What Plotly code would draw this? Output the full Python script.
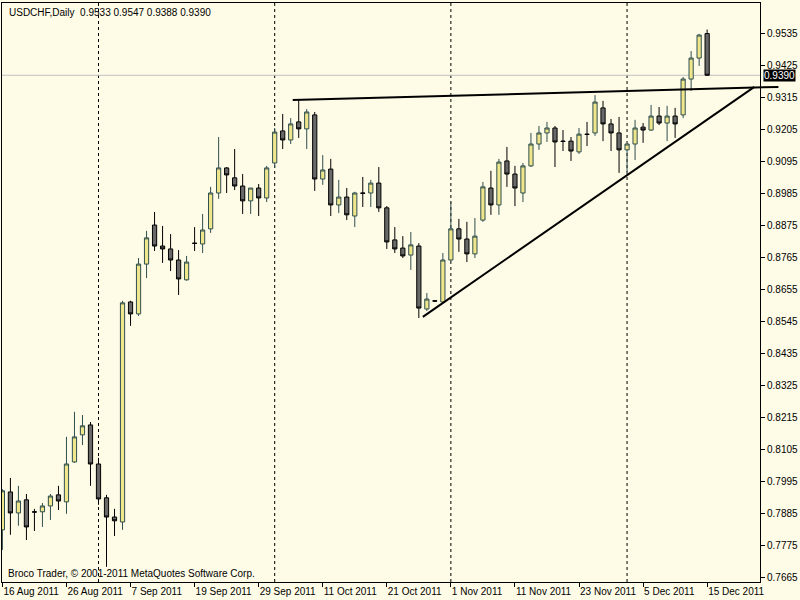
import pandas as pd
import plotly.graph_objects as go

# ---- data ----
dates = list(pd.bdate_range("2011-08-16", "2011-12-15").strftime("%Y-%m-%d"))
dates.insert(dates.index("2011-10-31"), "2011-10-30")  # broker Sunday bar

opens = [
    0.7830, 0.7960, 0.7888, 0.7933, 0.7892, 0.7892, 0.7912, 0.7950, 0.7926, 0.8063,
    0.8156, 0.8190, 0.8056, 0.7940, 0.7874, 0.7857, 0.8612, 0.8571, 0.8742, 0.8876,
    0.8804, 0.8794, 0.8756, 0.8688, 0.8814, 0.8811, 0.8863, 0.8986, 0.9072, 0.9038,
    0.9010, 0.8959, 0.9003, 0.8969, 0.9089, 0.9199, 0.9168, 0.9230, 0.9206, 0.9254,
    0.9034, 0.9068, 0.8945, 0.8972, 0.8907, 0.8986, 0.8986, 0.9020, 0.8935, 0.8825,
    0.8797, 0.8773, 0.8804, 0.8588, 0.8616, 0.8612, 0.8756, 0.8863, 0.8828, 0.8777,
    0.8893, 0.9003, 0.8945, 0.9096, 0.9051, 0.8986, 0.9079, 0.9154, 0.9192, 0.9209,
    0.9164, 0.9164, 0.9127, 0.9188, 0.9192, 0.9278, 0.9223, 0.9192, 0.9134, 0.9154,
    0.9212, 0.9202, 0.9250, 0.9226, 0.9250, 0.9254, 0.9377, 0.9449, 0.9533]
highs = [
    0.7970, 0.8008, 0.7981, 0.7953, 0.7902, 0.7922, 0.7953, 0.7981, 0.8149, 0.8235,
    0.8224, 0.8200, 0.8077, 0.7950, 0.7902, 0.8616, 0.8616, 0.8763, 0.8856, 0.8921,
    0.8873, 0.8845, 0.8790, 0.8770, 0.8869, 0.8914, 0.9007, 0.9178, 0.9075, 0.9137,
    0.9051, 0.9003, 0.9017, 0.9079, 0.9209, 0.9257, 0.9243, 0.9305, 0.9274, 0.9264,
    0.9116, 0.9103, 0.9031, 0.9003, 0.8990, 0.9041, 0.9031, 0.9075, 0.8941, 0.8869,
    0.8838, 0.8852, 0.8814, 0.8643, 0.8619, 0.8780, 0.8955, 0.8897, 0.8887, 0.8900,
    0.9024, 0.9062, 0.9103, 0.9144, 0.9079, 0.9089, 0.9192, 0.9216, 0.9230, 0.9216,
    0.9202, 0.9178, 0.9209, 0.9230, 0.9322, 0.9302, 0.9240, 0.9247, 0.9154, 0.9237,
    0.9226, 0.9288, 0.9281, 0.9285, 0.9278, 0.9384, 0.9473, 0.9532, 0.9547]
lows = [
    0.7761, 0.7813, 0.7844, 0.7795, 0.7826, 0.7840, 0.7864, 0.7898, 0.7885, 0.8060,
    0.8121, 0.7981, 0.7916, 0.7703, 0.7809, 0.7830, 0.8530, 0.8564, 0.8694, 0.8787,
    0.8746, 0.8718, 0.8636, 0.8685, 0.8787, 0.8780, 0.8849, 0.8966, 0.8986, 0.8996,
    0.8914, 0.8914, 0.8907, 0.8955, 0.9072, 0.9137, 0.9154, 0.9175, 0.9137, 0.8993,
    0.9014, 0.8907, 0.8917, 0.8893, 0.8869, 0.8938, 0.8938, 0.8921, 0.8794, 0.8780,
    0.8763, 0.8722, 0.8557, 0.8581, 0.8613, 0.8609, 0.8752, 0.8784, 0.8749, 0.8763,
    0.8887, 0.8911, 0.8911, 0.9007, 0.8941, 0.8955, 0.9075, 0.9134, 0.9161, 0.9075,
    0.9130, 0.9096, 0.9120, 0.9147, 0.9182, 0.9164, 0.9130, 0.9055, 0.9058, 0.9099,
    0.9158, 0.9199, 0.9219, 0.9164, 0.9175, 0.9243, 0.9336, 0.9422, 0.9388]
closes = [
    0.7964, 0.7888, 0.7929, 0.7840, 0.7891, 0.7912, 0.7946, 0.7929, 0.8056, 0.8149,
    0.8187, 0.8056, 0.7936, 0.7874, 0.7861, 0.8609, 0.8571, 0.8742, 0.8832, 0.8804,
    0.8794, 0.8756, 0.8691, 0.8749, 0.8813, 0.8859, 0.8986, 0.9072, 0.9048, 0.9010,
    0.8959, 0.9003, 0.8969, 0.9072, 0.9195, 0.9168, 0.9223, 0.9206, 0.9264, 0.9034,
    0.9065, 0.8945, 0.8972, 0.8911, 0.8986, 0.8985, 0.9020, 0.8935, 0.8818, 0.8794,
    0.8770, 0.8808, 0.8591, 0.8622, 0.8615, 0.8756, 0.8863, 0.8828, 0.8777, 0.8838,
    0.9007, 0.8945, 0.9092, 0.9051, 0.9003, 0.9079, 0.9154, 0.9192, 0.9209, 0.9161,
    0.9163, 0.9130, 0.9188, 0.9187, 0.9298, 0.9223, 0.9192, 0.9134, 0.9154, 0.9209,
    0.9202, 0.9250, 0.9226, 0.9250, 0.9223, 0.9377, 0.9449, 0.9528, 0.9390]

tick_dates = ["2011-08-16", "2011-08-26", "2011-09-07", "2011-09-19", "2011-09-29",
              "2011-10-11", "2011-10-21", "2011-11-01", "2011-11-11", "2011-11-23",
              "2011-12-05", "2011-12-15"]
tick_text = ["16 Aug 2011", "26 Aug 2011", "7 Sep 2011", "19 Sep 2011", "29 Sep 2011",
             "11 Oct 2011", "21 Oct 2011", "1 Nov 2011", "11 Nov 2011", "23 Nov 2011",
             "5 Dec 2011", "15 Dec 2011"]
price_ticks = [0.7665, 0.7775, 0.7885, 0.7995, 0.8105, 0.8215, 0.8325, 0.8435, 0.8545,
               0.8655, 0.8765, 0.8875, 0.8985, 0.9095, 0.9205, 0.9315, 0.9425, 0.9535]
period_separators = ["2011-09-01", "2011-10-03", "2011-11-01", "2011-12-01"]
last_price = 0.9390
header = "USDCHF,Daily  0.9533 0.9547 0.9388 0.9390"
footer = "Broco Trader, © 2001-2011 MetaQuotes Software Corp."

# trend lines drawn on the chart: (bar index, price) anchors
resistance_line = [(36.25, 0.9305), (96.9, 0.9350)]
support_line = [(52.5, 0.8561), (93.9, 0.9350)]

# ---- figure ----
BG = "#FEFBE7"
FONT = "Liberation Sans"
X_RANGE = [-0.05, 94.6]


def to_paper(idx):
    return (idx - X_RANGE[0]) / (X_RANGE[1] - X_RANGE[0])


fig = go.Figure()
fig.add_trace(go.Candlestick(
    x=dates, open=opens, high=highs, low=lows, close=closes,
    increasing=dict(line=dict(color="#2F4F4F", width=1), fillcolor="#F0E68C"),
    decreasing=dict(line=dict(color="#000000", width=1), fillcolor="#696969"),
    whiskerwidth=0, hoverinfo="skip", showlegend=False,
))

shapes = []
for d in period_separators:
    shapes.append(dict(type="line", xref="x", yref="paper", x0=d, x1=d, y0=0, y1=1,
                       line=dict(color="black", width=1, dash="3px,3px"), layer="below"))
shapes.append(dict(type="line", xref="paper", yref="y", x0=0, x1=1,
                   y0=last_price, y1=last_price,
                   line=dict(color="#C0C0C0", width=1), layer="below"))
# resistance line runs past the plot edge into the price-scale area
shapes.append(dict(type="line", xref="paper", yref="y",
                   x0=to_paper(resistance_line[0][0]), y0=resistance_line[0][1],
                   x1=to_paper(resistance_line[1][0]), y1=resistance_line[1][1],
                   line=dict(color="black", width=2), layer="above"))
shapes.append(dict(type="line", xref="x", yref="y",
                   x0=support_line[0][0], y0=support_line[0][1],
                   x1=support_line[1][0], y1=support_line[1][1],
                   line=dict(color="black", width=2), layer="above"))

fig.update_layout(
    width=800, height=600,
    paper_bgcolor=BG, plot_bgcolor=BG,
    margin=dict(l=2, r=40, t=3, b=18),
    font=dict(family=FONT, size=10, color="black"),
    boxgap=0.25,
    shapes=shapes,
    xaxis=dict(
        type="category", range=X_RANGE, rangeslider=dict(visible=False),
        tickmode="array", tickvals=tick_dates, ticktext=tick_text,
        ticks="outside", ticklen=4, tickcolor="black", tickwidth=1,
        ticklabelposition="outside right", tickangle=0, tickfont=dict(size=10),
        showgrid=False, zeroline=False, automargin=False,
        showline=True, linecolor="black", linewidth=1, mirror=True,
    ),
    yaxis=dict(
        side="right", range=[0.7651, 0.9638],
        tickmode="array", tickvals=price_ticks,
        ticktext=[f"{v:.4f}" for v in price_ticks],
        ticks="outside", ticklen=4, tickcolor="black", tickwidth=1,
        tickfont=dict(size=10),
        showgrid=False, zeroline=False, automargin=False,
        showline=True, linecolor="black", linewidth=1, mirror=True,
    ),
    annotations=[
        dict(text=header, xref="paper", yref="paper", x=0, y=1, xanchor="left",
             yanchor="top", xshift=5, yshift=-2, showarrow=False,
             font=dict(size=10, color="black")),
        dict(text=footer, xref="paper", yref="paper", x=0, y=0, xanchor="left",
             yanchor="bottom", xshift=4, yshift=1, showarrow=False,
             font=dict(size=10, color="black")),
        dict(text=f"{last_price:.4f}", xref="paper", yref="y", x=1, y=last_price,
             xanchor="left", yanchor="middle", xshift=3, showarrow=False,
             bgcolor="black", font=dict(size=10, color="white"), borderpad=0),
    ],
)

fig.write_html("out.html", config={"displayModeBar": False},
               post_script="document.body.style.margin='0px';")
